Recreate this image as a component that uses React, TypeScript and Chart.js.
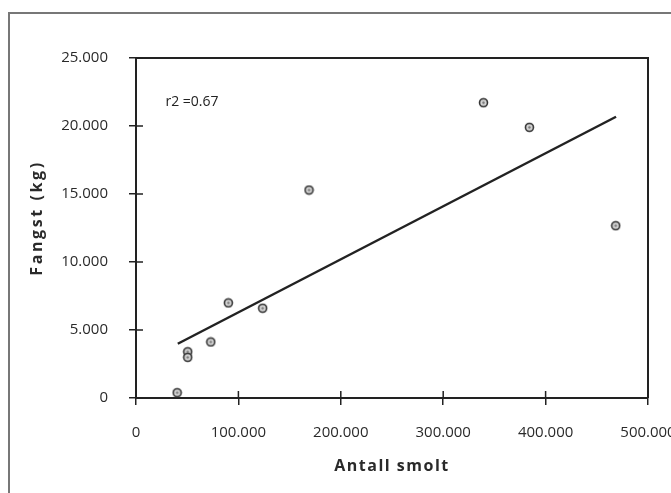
import React, { useEffect, useRef } from "react";
import { Chart, registerables } from "chart.js";

Chart.register(...registerables);

const smoltX = [40200, 50500, 50500, 73000, 90200, 123700, 169000, 339300, 384200, 468500];
const fangstY = [390, 3400, 2990, 4120, 6990, 6600, 15290, 21710, 19900, 12670];
const trendX = [40800, 468800];
const trendY = [3990, 20680];
const r2Label = "r2 =0.67";
const r2Pos = [28800, 21760];
const xTitle = "Antall smolt";
const yTitle = "Fangst (kg)";
const xMax = 500000;
const xStep = 100000;
const yMax = 25000;
const yStep = 5000;

const fmt = (v: number) => (v === 0 ? "0" : String(v).replace(/\B(?=(\d{3})+(?!\d))/g, "."));

function makeMarker(): HTMLCanvasElement {
  const c = document.createElement("canvas");
  c.width = 11;
  c.height = 11;
  const g = c.getContext("2d")!;
  g.beginPath();
  g.arc(5.5, 5.5, 4, 0, Math.PI * 2);
  g.fillStyle = "#d4d4d4";
  g.fill();
  g.lineWidth = 1.6;
  g.strokeStyle = "#333";
  g.stroke();
  g.beginPath();
  g.arc(5.5, 5.5, 1.2, 0, Math.PI * 2);
  g.fillStyle = "#777";
  g.fill();
  return c;
}

const decorPlugin = {
  id: "decor",
  afterUpdate(chart: any) {
    const wrap = (scale: any, spacing: string, dy: number) => {
      if (!scale || scale.__wrapped) return;
      const orig = scale.drawTitle;
      scale.drawTitle = function (...args: any[]) {
        const ctx = this.ctx;
        ctx.save();
        (ctx as any).letterSpacing = spacing;
        ctx.translate(0, dy);
        orig.apply(this, args);
        ctx.restore();
      };
      scale.__wrapped = true;
    };
    wrap(chart.scales.x, "1.5px", 0);
    wrap(chart.scales.y, "2.6px", -10);
  },
  afterDraw(chart: any) {
    const { ctx, chartArea: a, scales } = chart;
    ctx.save();
    ctx.strokeStyle = "#777";
    ctx.lineWidth = 2;
    ctx.beginPath();
    ctx.moveTo(9, chart.height);
    ctx.lineTo(9, 13);
    ctx.lineTo(chart.width, 13);
    ctx.stroke();
    ctx.strokeStyle = "#222";
    ctx.lineWidth = 2;
    ctx.beginPath();
    ctx.moveTo(a.left, a.top);
    ctx.lineTo(a.right, a.top);
    ctx.lineTo(a.right, a.bottom);
    ctx.stroke();
    ctx.lineWidth = 1.5;
    ctx.beginPath();
    scales.x.ticks.forEach((_: any, i: number) => {
      const px = scales.x.getPixelForTick(i);
      ctx.moveTo(px, a.bottom);
      ctx.lineTo(px, a.bottom - 7);
    });
    scales.y.ticks.forEach((_: any, i: number) => {
      const py = scales.y.getPixelForTick(i);
      ctx.moveTo(a.left, py);
      ctx.lineTo(a.left + 7, py);
    });
    ctx.stroke();
    ctx.fillStyle = "#222";
    ctx.font = "14px 'Open Sans'";
    ctx.textAlign = "left";
    ctx.textBaseline = "middle";
    ctx.fillText(r2Label, scales.x.getPixelForValue(r2Pos[0]), scales.y.getPixelForValue(r2Pos[1]));
    ctx.restore();
  },
};

export default function App() {
  const ref = useRef<HTMLCanvasElement>(null);
  useEffect(() => {
    document.body.style.margin = "0";
    const marker = makeMarker();
    const chart = new Chart(ref.current!, {
      type: "scatter",
      data: {
        datasets: [
          {
            type: "line",
            data: trendX.map((x, i) => ({ x, y: trendY[i] })),
            borderColor: "#222",
            borderWidth: 2.5,
            pointRadius: 0,
            fill: false,
          } as any,
          {
            data: smoltX.map((x, i) => ({ x, y: fangstY[i] })),
            pointStyle: marker as any,
            pointRadius: 5,
          },
        ],
      },
      options: {
        responsive: false,
        animation: false,
        layout: { padding: { top: 58, right: 23, bottom: 0, left: 0 } },
        plugins: { legend: { display: false }, tooltip: { enabled: false } },
        scales: {
          x: {
            type: "linear",
            min: 0,
            max: xMax,
            afterBuildTicks: (s: any) => {
              const t = [];
              for (let v = 0; v <= xMax; v += xStep) t.push({ value: v });
              s.ticks = t;
            },
            afterFit: (s: any) => {
              s.height = 95;
              s.paddingLeft = 0;
              s.paddingRight = 0;
            },
            grid: { drawOnChartArea: false, drawTicks: true, tickLength: 7, color: "#222", lineWidth: 1.5 },
            border: { color: "#222", width: 2 },
            ticks: {
              padding: 19,
              color: "#2a2a2a",
              font: { family: "'Open Sans'", size: 15 },
              maxRotation: 0,
              callback: (v: any) => fmt(Number(v)),
            },
            title: {
              display: true,
              text: xTitle,
              color: "#2a2a2a",
              font: { family: "'Open Sans'", size: 16, weight: "bold" },
              padding: { top: 0, bottom: 17 },
            },
          },
          y: {
            type: "linear",
            min: 0,
            max: yMax,
            afterBuildTicks: (s: any) => {
              const t = [];
              for (let v = 0; v <= yMax; v += yStep) t.push({ value: v });
              s.ticks = t;
            },
            afterFit: (s: any) => {
              s.width = 136;
            },
            grid: { drawOnChartArea: false, drawTicks: true, tickLength: 7, color: "#222", lineWidth: 1.5 },
            border: { color: "#222", width: 2 },
            ticks: {
              padding: 21,
              color: "#2a2a2a",
              font: { family: "'Open Sans'", size: 15 },
              callback: (v: any) => fmt(Number(v)),
            },
            title: {
              display: true,
              text: yTitle,
              color: "#2a2a2a",
              font: { family: "'Open Sans'", size: 16, weight: "bold" },
              padding: { top: 28, bottom: 0 },
            },
          },
        },
      },
      plugins: [decorPlugin],
    });
    return () => chart.destroy();
  }, []);
  return (
    <div style={{ width: 671, height: 493 }}>
      <canvas ref={ref} width={671} height={493} style={{ display: "block" }} />
    </div>
  );
}
